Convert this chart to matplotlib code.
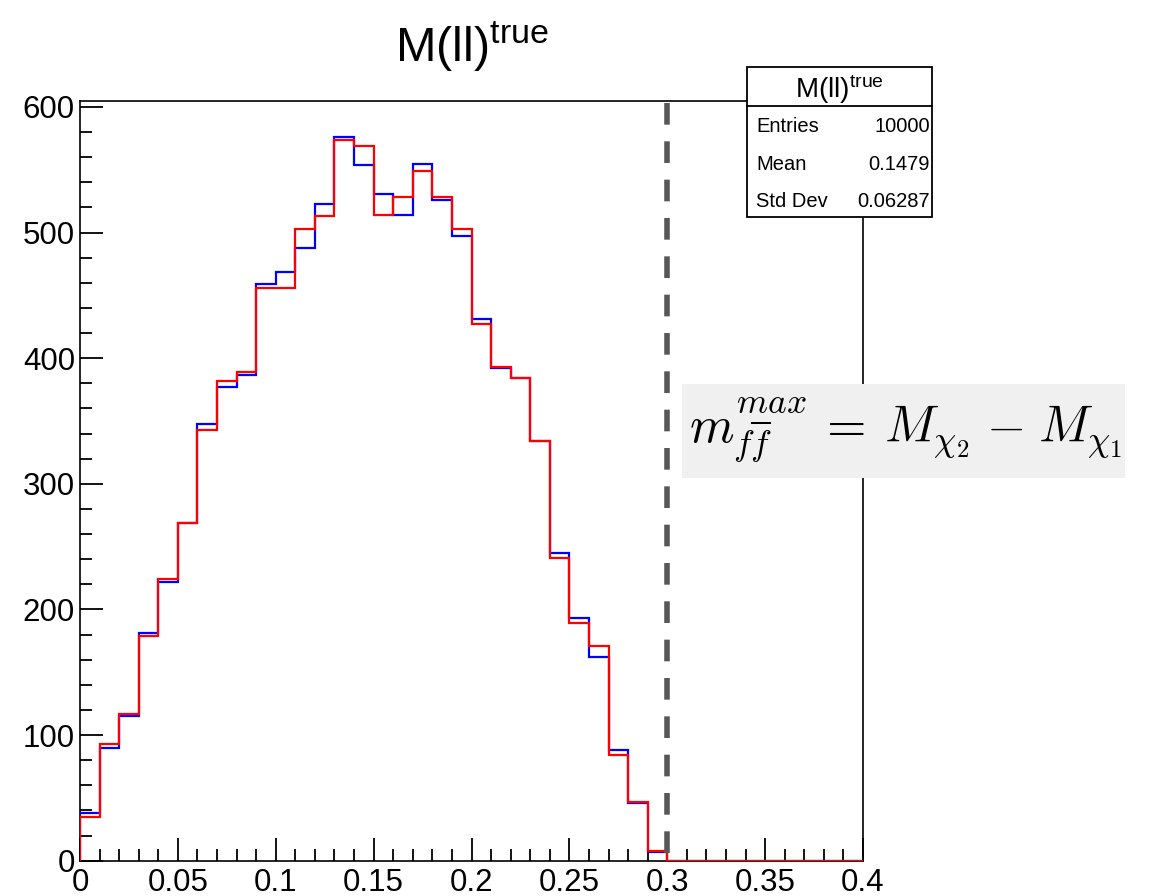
import numpy as np
import matplotlib
matplotlib.use("Agg")
import matplotlib.pyplot as plt
from matplotlib.patches import Rectangle
from matplotlib.lines import Line2D
from matplotlib.ticker import MultipleLocator, FixedLocator

plt.rcParams['font.family'] = ['Liberation Sans', 'DejaVu Sans']
plt.rcParams['mathtext.fontset'] = 'custom'
plt.rcParams['mathtext.rm'] = 'Liberation Sans'
plt.rcParams['mathtext.it'] = 'Liberation Sans:italic'
plt.rcParams['mathtext.bf'] = 'Liberation Sans:bold'

# Histogram definition: 40 bins over [0, 0.4]
n_bins = 40
x_range = (0.0, 0.4)

# Bin contents (first 30 bins; the remaining bins are empty)
counts_blue = [38, 90, 115, 181, 222, 269, 348, 377, 387, 459,
               469, 488, 523, 576, 554, 531, 514, 555, 526, 497,
               431, 392, 384, 334, 245, 193, 162, 88, 46, 7]
counts_red = [35, 93, 117, 179, 224, 269, 343, 382, 389, 456,
              456, 503, 513, 574, 569, 514, 528, 549, 528, 503,
              427, 393, 384, 334, 241, 189, 171, 84, 47, 8]

x_tick_values = [0, 0.05, 0.1, 0.15, 0.2, 0.25, 0.3, 0.35, 0.4]
x_tick_labels = ["0", "0.05", "0.1", "0.15", "0.2", "0.25", "0.3", "0.35", "0.4"]
y_tick_values = [0, 100, 200, 300, 400, 500, 600]
y_tick_labels = ["0", "100", "200", "300", "400", "500", "600"]

endpoint = 0.3
stats_title = r"M(ll)$^{\mathrm{true}}$"
stats_rows = [("Entries", "10000"), ("Mean", "0.1479"), ("Std Dev", "0.06287")]
formula = r"$m_{f\overline{f}}^{max}\,{=}\:M_{\chi_2}\;{-}\;M_{\chi_1}$"

W_PX, H_PX = 1151, 896


def fx(x):
    return x / W_PX


def fy(y):
    return 1 - y / H_PX


fig = plt.figure(figsize=(W_PX / 100, H_PX / 100), dpi=100)
fig.patch.set_facecolor("white")

left, right, top, bottom = 80, 863, 100.7, 860.7
ax = fig.add_axes([fx(left), fy(bottom), (right - left) / W_PX, (bottom - top) / H_PX])

edges = np.linspace(x_range[0], x_range[1], n_bins + 1)
blue = np.zeros(n_bins)
blue[:len(counts_blue)] = counts_blue
red = np.zeros(n_bins)
red[:len(counts_red)] = counts_red

ax.stairs(blue, edges, color="#0000ff", lw=1.6, baseline=0, zorder=3)
ax.stairs(red, edges, color="#ff0000", lw=1.6, baseline=0, zorder=4)

ymax = 605
ax.set_xlim(*x_range)
ax.set_ylim(0, ymax)

# kinematic endpoint
ax.plot([endpoint, endpoint], [ymax * 0.997, 0], color="#575757", lw=4.0,
        dashes=(3.9, 3.0), solid_capstyle="butt", dash_capstyle="butt", zorder=5)

ax.xaxis.set_major_locator(FixedLocator(x_tick_values))
ax.set_xticklabels(x_tick_labels)
ax.xaxis.set_minor_locator(MultipleLocator(0.01))
ax.yaxis.set_major_locator(FixedLocator(y_tick_values))
ax.set_yticklabels(y_tick_labels)
ax.yaxis.set_minor_locator(MultipleLocator(20))

ax.tick_params(which="major", direction="in", length=16.5, width=1.3,
               labelsize=22.5, colors="black")
ax.tick_params(which="minor", direction="in", length=8.5, width=1.3)
ax.tick_params(axis="y", pad=3.6)
ax.tick_params(axis="x", pad=5)
ax.tick_params(top=False, right=False, which="both")

for s in ax.spines.values():
    s.set_linewidth(1.2)
    s.set_color("black")

# title
fig.text(fx(472), fy(62), stats_title, ha="center", va="baseline", fontsize=35)

# statistics box
bx0, bx1, by0, by1 = 746.5, 932, 67.3, 217
fig.patches.append(Rectangle((fx(bx0), fy(by1)), (bx1 - bx0) / W_PX, (by1 - by0) / H_PX,
                             transform=fig.transFigure, facecolor="white",
                             edgecolor="black", lw=1.3, zorder=10))
fig.lines.append(Line2D([fx(bx0), fx(bx1)], [fy(105.7), fy(105.7)],
                        transform=fig.transFigure, color="black", lw=1.3, zorder=11))
fig.text(fx((bx0 + bx1) / 2), fy(98), stats_title, ha="center", va="baseline",
         fontsize=20, zorder=12)
row_y = [126, 164.3, 201.7]
for (lab, val), yy in zip(stats_rows, row_y):
    fig.text(fx(756), fy(yy), lab, ha="left", va="center", fontsize=14.5, zorder=12)
    fig.text(fx(930), fy(yy), val, ha="right", va="center", fontsize=14.5, zorder=12)

# formula panel
fig.patches.append(Rectangle((fx(682), fy(477.7)), (1125 - 682) / W_PX, (477.7 - 384) / H_PX,
                             transform=fig.transFigure, facecolor="#f0f0f0",
                             edgecolor="none", zorder=10))
fig.text(fx(689), fy(443), formula, ha="left", va="baseline", fontsize=36.5,
         math_fontfamily="cm", zorder=12)

fig.savefig("out.png", dpi=100)
